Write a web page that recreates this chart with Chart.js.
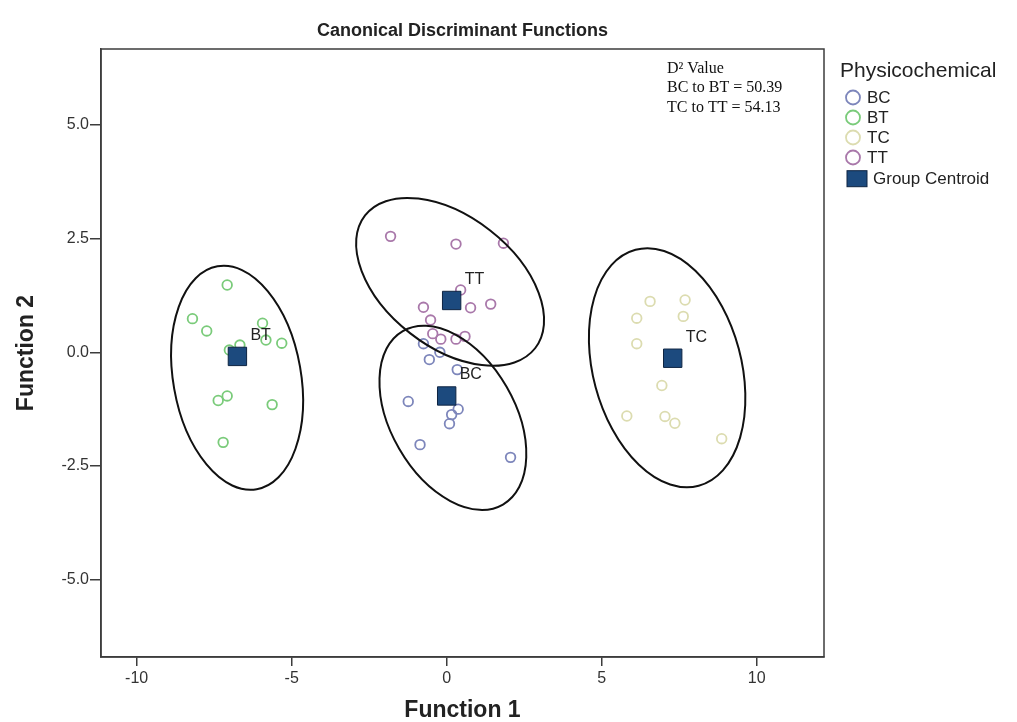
<!DOCTYPE html>
<html>
<head>
<meta charset="utf-8">
<script src="https://cdn.jsdelivr.net/npm/chart.js@4.4.1/dist/chart.umd.min.js"></script>
<style>
  html, body { margin: 0; padding: 0; background: #fff; }
</style>
</head>
<body>
<canvas id="chart-cdf" width="1017" height="722"></canvas>
<script>
// group scores on the two canonical functions
const groups = ['BC', 'BT', 'TC', 'TT'];
const groupColors = ['#7d86bb', '#7acb7a', '#dcdcb0', '#a978aa'];

const bcX = [-0.75, -0.22, -0.56, 0.34, -1.24, 0.37, 0.16, 0.09, -0.86, 2.06];
const bcY = [0.19, 0.00, -0.16, -0.38, -1.08, -1.25, -1.37, -1.57, -2.03, -2.31];

const btX = [-7.08, -8.20, -7.74, -5.94, -5.83, -5.32, -6.67, -7.01, -7.37, -7.08, -5.63, -7.21];
const btY = [1.48, 0.74, 0.47, 0.64, 0.27, 0.20, 0.16, 0.05, -1.06, -0.96, -1.15, -1.98];

const tcX = [6.56, 7.69, 6.13, 7.63, 6.13, 6.94, 5.81, 7.04, 7.36, 8.87];
const tcY = [1.12, 1.15, 0.75, 0.79, 0.19, -0.73, -1.40, -1.41, -1.56, -1.90];

const ttX = [-1.81, 0.30, 1.83, 0.45, 0.77, 1.42, -0.75, -0.52, -0.45, -0.19, 0.30, 0.59];
const ttY = [2.55, 2.38, 2.40, 1.37, 0.98, 1.06, 0.99, 0.71, 0.41, 0.29, 0.29, 0.35];

const centroidX = [0.00, -6.75, 7.29, 0.16];
const centroidY = [-0.96, -0.09, -0.13, 1.14];

// hand drawn group ellipses: centre, semi axes (x units), tilt in degrees
const ellipseCx = [0.20, -6.76, 7.11, 0.11];
const ellipseCy = [-1.44, -0.56, -0.34, 1.55];
const ellipseMajor = [3.23, 3.65, 3.94, 3.48];
const ellipseMinor = [2.00, 2.06, 2.39, 2.10];
const ellipseTilt = [60, 80, 75, 38];

const xTicks = [-10, -5, 0, 5, 10];
const yTicks = [-5, -2.5, 0, 2.5, 5];

const distanceLines = ['D\u00b2 Value', 'BC to BT = 50.39', 'TC to TT = 54.13'];
const legendTitle = 'Physicochemical';
const centroidLabel = 'Group Centroid';

const seriesX = [bcX, btX, tcX, ttX];
const seriesY = [bcY, btY, tcY, ttY];

const toPoints = (xs, ys) => xs.map((v, i) => ({ x: v, y: ys[i] }));

const datasets = [{
  label: centroidLabel,
  data: toPoints(centroidX, centroidY),
  pointStyle: 'rect',
  pointRadius: 13,
  pointHoverRadius: 13,
  backgroundColor: '#1c4a7e',
  borderColor: '#0e2442',
  borderWidth: 1,
  order: 0
}].concat(groups.map((g, i) => ({
  label: g,
  data: toPoints(seriesX[i], seriesY[i]),
  pointStyle: 'circle',
  pointRadius: 4.8,
  pointHoverRadius: 4.8,
  backgroundColor: 'rgba(0,0,0,0)',
  borderColor: groupColors[i],
  borderWidth: 1.8,
  order: 1
})));

const frame = {
  id: 'frame',
  beforeDatasetsDraw(chart) {
    const { ctx, chartArea: a } = chart;
    ctx.save();
    ctx.strokeStyle = '#3c3c3c';
    ctx.lineWidth = 1.5;
    ctx.strokeRect(a.left, a.top, a.right - a.left, a.bottom - a.top);
    ctx.restore();
  }
};

const groupEllipses = {
  id: 'groupEllipses',
  afterDatasetsDraw(chart) {
    const { ctx, scales: { x, y } } = chart;
    const unit = x.getPixelForValue(1) - x.getPixelForValue(0);
    ctx.save();
    ctx.strokeStyle = '#111';
    ctx.lineWidth = 2;
    ellipseCx.forEach((cx, i) => {
      ctx.beginPath();
      ctx.ellipse(x.getPixelForValue(cx), y.getPixelForValue(ellipseCy[i]),
        ellipseMajor[i] * unit, ellipseMinor[i] * unit,
        ellipseTilt[i] * Math.PI / 180, 0, Math.PI * 2);
      ctx.stroke();
    });
    ctx.restore();
  }
};

const annotations = {
  id: 'annotations',
  afterDraw(chart) {
    const { ctx, scales: { x, y }, chartArea: a } = chart;
    ctx.save();
    // centroid names
    ctx.fillStyle = '#222';
    ctx.font = '16px "Liberation Sans", Arial, sans-serif';
    ctx.textAlign = 'left';
    ctx.textBaseline = 'middle';
    groups.forEach((g, i) => {
      ctx.fillText(g, x.getPixelForValue(centroidX[i]) + 13, y.getPixelForValue(centroidY[i]) - 21);
    });

    // D2 box
    ctx.fillStyle = '#111';
    ctx.font = '16px "Liberation Serif", "Times New Roman", serif';
    ctx.textBaseline = 'alphabetic';
    distanceLines.forEach((t, i) => ctx.fillText(t, a.right - 157, a.top + 24 + i * 19.3));

    // legend
    const lx = a.right + 16;
    ctx.fillStyle = '#222';
    ctx.font = '21px "Liberation Sans", Arial, sans-serif';
    ctx.textBaseline = 'middle';
    ctx.fillText(legendTitle, lx, 71);
    ctx.font = '17px "Liberation Sans", Arial, sans-serif';
    groups.forEach((g, i) => {
      const cy = 97.5 + i * 20;
      ctx.beginPath();
      ctx.arc(lx + 13, cy, 7, 0, Math.PI * 2);
      ctx.strokeStyle = groupColors[i];
      ctx.lineWidth = 1.8;
      ctx.stroke();
      ctx.fillStyle = '#222';
      ctx.fillText(g, lx + 27, cy + 1);
    });
    const sy = 178.7;
    ctx.fillStyle = '#1c4a7e';
    ctx.fillRect(lx + 7, sy - 8, 20, 16);
    ctx.strokeStyle = '#0e2442';
    ctx.lineWidth = 1;
    ctx.strokeRect(lx + 7, sy - 8, 20, 16);
    ctx.fillStyle = '#222';
    ctx.fillText(centroidLabel, lx + 33, sy + 1);
    ctx.restore();
  }
};

new Chart(document.getElementById('chart-cdf'), {
  type: 'scatter',
  data: { datasets },
  options: {
    responsive: false,
    animation: false,
    layout: { padding: { left: 0, right: 193, top: 0, bottom: 0 } },
    plugins: {
      legend: { display: false },
      tooltip: { enabled: false },
      title: {
        display: true,
        fullSize: false,
        text: 'Canonical Discriminant Functions',
        color: '#222',
        font: { family: '"Liberation Sans", Arial, sans-serif', size: 18, weight: 'bold' },
        padding: { top: 20, bottom: 7.4 }
      }
    },
    scales: {
      x: {
        type: 'linear',
        min: -11.15,
        max: 12.17,
        afterFit: s => { s.height = 65; },
        afterBuildTicks: s => { s.ticks = xTicks.map(v => ({ value: v })); },
        grid: { display: true, drawOnChartArea: false, drawTicks: true, tickLength: 9, color: '#3c3c3c', lineWidth: 1.5 },
        border: { display: true, color: '#3c3c3c', width: 1.5 },
        ticks: {
          color: '#333',
          padding: 3,
          font: { family: '"Liberation Sans", Arial, sans-serif', size: 16 },
          callback: v => String(v)
        },
        title: {
          display: true,
          text: 'Function 1',
          color: '#222',
          font: { family: '"Liberation Sans", Arial, sans-serif', size: 23, weight: 'bold' },
          padding: { top: 0, bottom: -2 }
        }
      },
      y: {
        type: 'linear',
        min: -6.7,
        max: 6.67,
        afterFit: s => { s.width = 101; },
        afterBuildTicks: s => { s.ticks = yTicks.map(v => ({ value: v })); },
        grid: { display: true, drawOnChartArea: false, drawTicks: true, tickLength: 11, color: '#3c3c3c', lineWidth: 1.5 },
        border: { display: true, color: '#3c3c3c', width: 1.5 },
        ticks: {
          color: '#333',
          padding: 1,
          font: { family: '"Liberation Sans", Arial, sans-serif', size: 16 },
          callback: v => Number(v).toFixed(1)
        },
        title: {
          display: true,
          text: 'Function 2',
          color: '#222',
          font: { family: '"Liberation Sans", Arial, sans-serif', size: 23, weight: 'bold' },
          padding: { top: 13, bottom: 0 }
        }
      }
    }
  },
  plugins: [frame, groupEllipses, annotations]
});
</script>
</body>
</html>
